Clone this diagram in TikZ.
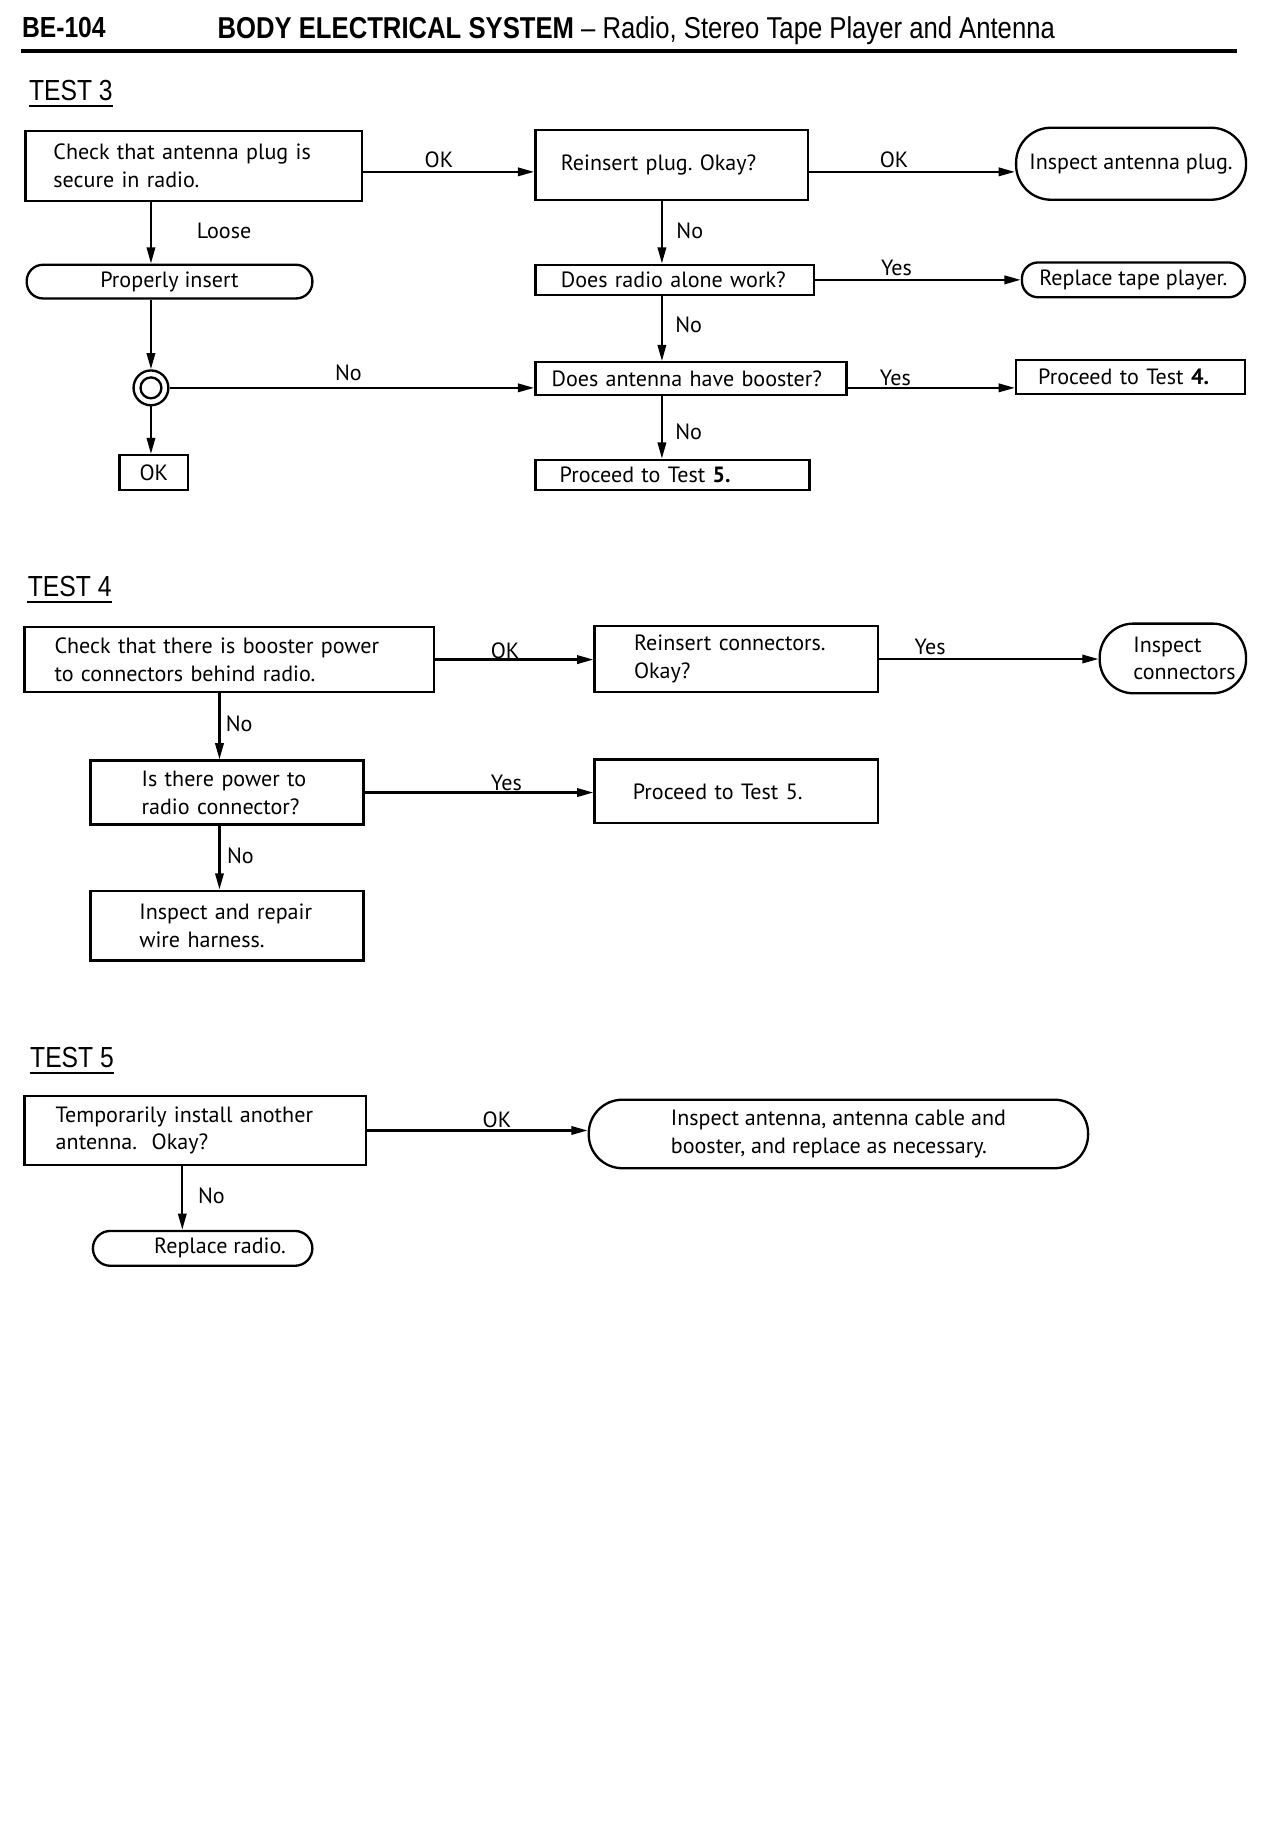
\documentclass[tikz,border=0pt]{standalone}
\usepackage{fontspec}
\setmainfont{PT Sans}
\newfontfamily\headfont[FakeStretch=0.85]{Liberation Sans}
\usetikzlibrary{arrows.meta}
\frenchspacing
\tikzset{
    box/.style={draw,line width=1pt,align=left,inner ysep=0pt},
    term/.style={draw,line width=1pt,rounded corners=#1,align=left,inner sep=0pt},
    hub/.style={draw,circle,line width=1pt,minimum size=15pt,inner sep=0pt},
    lbl/.style={inner sep=0pt},
    flow/.style={line width=1pt,-{Triangle[length=7pt,width=3.6pt]}},
    title/.style={font=\headfont\fontsize{12.5}{14}\selectfont,inner xsep=0pt,inner ysep=2pt}
}

\begin{document}
\begin{tikzpicture}[x=0.5pt,y=-0.5pt,font=\fontsize{9.5}{12}\selectfont]
    \useasboundingbox (0,0) rectangle (1102,1569);
    \node[title,font=\headfont\bfseries\fontsize{12.5}{14}\selectfont] (page) at (55,24) {BE-104};
    \node[title,font=\headfont\fontsize{13}{15}\selectfont,anchor=west] (head) at (187,26)
        {\bfseries BODY ELECTRICAL SYSTEM \mdseries\textendash\ Radio, Stereo Tape Player and Antenna};
    \draw[line width=1.8pt] (18,44) -- (1065,44);

    \node[title] (t3) at (61,78) {TEST 3};
    \draw[line width=1pt] (t3.south west) -- (t3.south east);
    \node[box,text width=121pt,inner xsep=12pt,minimum height=30pt] (chk3) at (167,143)
        {Check that antenna plug is\\secure in radio.};
    \node[box,text width=95.5pt,inner xsep=11pt,minimum height=30pt] (reins) at (578.5,142)
        {Reinsert plug. Okay?};
    \node[term=15pt,minimum width=99pt,minimum height=31pt] (plug) at (974,141)
        {Inspect antenna plug.};
    \node[term=7pt,minimum width=123pt,minimum height=14.5pt] (insert) at (146,242.5)
        {Properly insert};
    \node[hub] (ring) at (130,334) {};
    \draw[line width=1pt] (ring.center) circle (4.5pt);
    \node[box,minimum width=29.5pt,minimum height=15pt,inner sep=0pt] (okbox) at (132.5,407) {OK};
    \node[box,text width=98pt,inner xsep=11pt,minimum height=13pt] (alone) at (581,241)
        {Does radio alone work?};
    \node[term=7pt,minimum width=96pt,minimum height=15pt] (tape) at (976,241)
        {Replace tape player.};
    \node[box,text width=120pt,inner xsep=7pt,minimum height=14pt] (boost) at (595,326)
        {Does antenna have booster?};
    \node[box,text width=79.5pt,inner xsep=9.5pt,minimum height=14.5pt] (four) at (973.5,324.5)
        {Proceed to Test \textbf{4.}};
    \node[box,text width=97pt,inner xsep=10.5pt,minimum height=13pt] (five) at (579,409)
        {Proceed to Test \textbf{5.}};
    \coordinate (c3) at (570,0);

    \draw[flow] ([yshift=-2.5pt]chk3.east) -- ([yshift=-2.5pt]chk3.east -| reins.west);
    \draw[flow] ([yshift=-3pt]reins.east) -- ([yshift=-3pt]reins.east -| plug.west);
    \draw[flow] (chk3.south -| ring) -- (insert.north -| ring);
    \draw[flow] (insert.south -| ring) -- (ring.north);
    \draw[flow] (ring.south) -- (okbox.north -| ring);
    \draw[flow] (ring.east) -- (ring.center -| boost.west);
    \draw[flow] (reins.south -| c3) -- (alone.north -| c3);
    \draw[flow] (alone.south -| c3) -- (boost.north -| c3);
    \draw[flow] (boost.south -| c3) -- (five.north -| c3);
    \draw[flow] (alone.east) -- (alone.east -| tape.west);
    \draw[flow] ([yshift=-4pt]boost.east) -- ([yshift=-4pt]boost.east -| four.west);

    \node[lbl] (ok1) at (378,138) {OK};
    \node[lbl] (ok2) at (770,138) {OK};
    \node[lbl] (loose) at (193,199) {Loose};
    \node[lbl] (no1) at (594,199) {No};
    \node[lbl] (yes1) at (772,231) {Yes};
    \node[lbl] (no2) at (593,280) {No};
    \node[lbl] (no3) at (300,321) {No};
    \node[lbl] (yes2) at (771,325) {Yes};
    \node[lbl] (no4) at (593,372) {No};

    \node[title] (t4) at (60,505) {TEST 4};
    \draw[line width=1pt] (t4.south west) -- (t4.south east);
    \node[box,text width=150.5pt,inner xsep=13pt,minimum height=28pt] (chk4) at (197.5,568)
        {Check that there is booster power\\to connectors behind radio.};
    \node[box,text width=88pt,inner xsep=17pt,minimum height=28.5pt] (reconn) at (634,567.5)
        {Reinsert connectors.\\Okay?};
    \node[term=14.5pt,minimum width=63pt,minimum height=30pt] (conn) at (1010,567)
        {\hspace*{10pt}Inspect\\\hspace*{10pt}connectors};
    \node[box,text width=73.5pt,inner xsep=22pt,minimum height=27.5pt] (power) at (195.5,682.5)
        {Is there power to\\radio connector?};
    \node[box,text width=89pt,inner xsep=16.5pt,minimum height=27.5pt] (five2) at (634,681.5)
        {Proceed to Test 5.};
    \node[box,text width=75.5pt,inner xsep=21pt,minimum height=30pt] (harness) at (195.5,797)
        {Inspect and repair\\wire harness.};
    \coordinate (c4) at (189,0);

    \draw[flow] (chk4.east) -- (chk4.east -| reconn.west);
    \draw[flow] (reconn.east) -- (reconn.east -| conn.west);
    \draw[flow] (chk4.south -| c4) -- (power.north -| c4);
    \draw[flow] (power.east) -- (power.east -| five2.west);
    \draw[flow] (power.south -| c4) -- (harness.north -| c4);

    \node[lbl] (ok3) at (435,560) {OK};
    \node[lbl] (yes3) at (801,557) {Yes};
    \node[lbl] (no5) at (206,623) {No};
    \node[lbl] (yes4) at (436,674) {Yes};
    \node[lbl] (no6) at (207,737) {No};

    \node[title] (t5) at (62,911) {TEST 5};
    \draw[line width=1pt] (t5.south west) -- (t5.south east);
    \node[box,text width=120pt,inner xsep=13.5pt,minimum height=29.5pt] (chk5) at (168,973.5)
        {Temporarily install another\\antenna.\ \ Okay?};
    \node[term=14.5pt,minimum width=215pt,minimum height=29.5pt] (antc) at (722,976.5)
        {Inspect antenna, antenna cable and\\booster, and replace as necessary.};
    \node[term=7.5pt,minimum width=94.5pt,minimum height=15pt] (radio) at (174.5,1075)
        {\hspace*{15pt}Replace radio.};
    \coordinate (c5) at (157,0);

    \draw[flow] (chk5.east) -- (chk5.east -| antc.west);
    \draw[flow] (chk5.south -| c5) -- (radio.north -| c5);

    \node[lbl] (ok4) at (428,964) {OK};
    \node[lbl] (no7) at (182,1030) {No};
\end{tikzpicture}
\end{document}
